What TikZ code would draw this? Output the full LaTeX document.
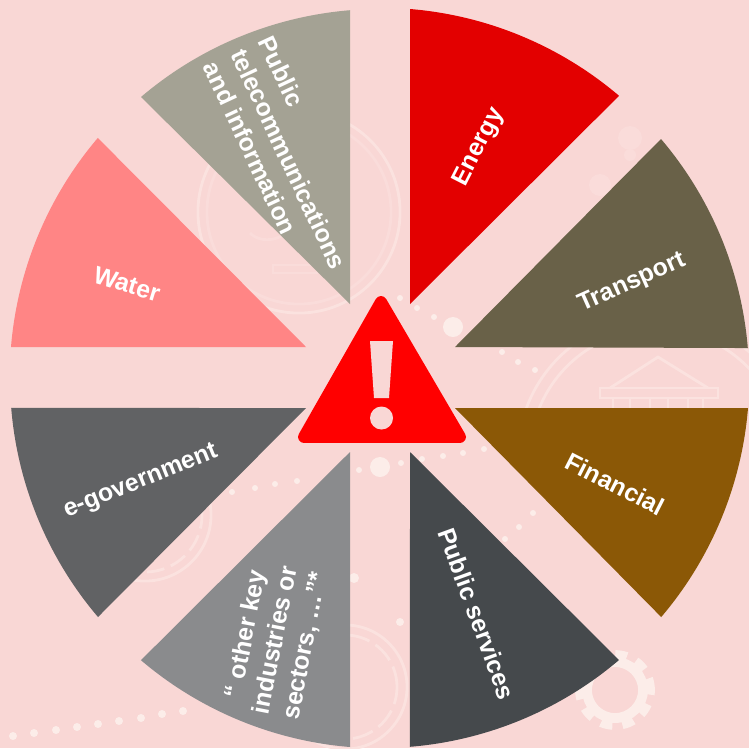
\documentclass[tikz,border=0pt]{standalone}
\usepackage{fontspec}
\setmainfont{Liberation Sans}
\usetikzlibrary{calc}
\definecolor{bgpink}{HTML}{F9D7D5}
\definecolor{wm}{HTML}{FBE2DF}
\definecolor{wmdot}{HTML}{FCEDE9}
\definecolor{wmlow}{HTML}{FADCDA}
\definecolor{cEnergy}{HTML}{E30000}
\definecolor{cTransport}{HTML}{696148}
\definecolor{cFinancial}{HTML}{8B5806}
\definecolor{cServices}{HTML}{45494C}
\definecolor{cOther}{HTML}{8A8B8D}
\definecolor{cGov}{HTML}{616264}
\definecolor{cWater}{HTML}{FF8585}
\definecolor{cTele}{HTML}{A4A294}
\definecolor{cAlert}{HTML}{FF0000}
\tikzset{
  x=0.01cm,y=-0.01cm,
  label text/.style={text=white,font=\bfseries\fontsize{7.05}{8.6}\selectfont,align=center,inner sep=0pt},
  faint/.style={draw=wm,line width=0.8pt,fill=none},
  rim/.style={radius=3.69cm}
}
\begin{document}
\begin{tikzpicture}
\useasboundingbox (0,0) rectangle (749,748);
\fill[bgpink] (0,0) rectangle (749,748);
% faint watermark
\draw[faint] (299,212) circle[radius=1.01cm];
\draw[faint,draw=wmlow] (299,212) circle[radius=0.92cm];
\draw[faint,draw=wmlow] (273,265) rectangle (317,273);
\draw[faint,draw=wmlow] (250,233) .. controls (262,245) and (285,240) .. (292,225);
\begin{scope}
\clip (500,340) rectangle (749,410);
\draw[faint] (657,456) circle[radius=1.39cm];
\draw[faint] (657,456) circle[radius=1.27cm];
\end{scope}
\draw[faint] (610,388) -- (658,357) -- (708,388);
\draw[faint] (600,388) rectangle (718,398);
\foreach \cx in {613,630,650,668,688,703} \draw[faint] (\cx,398) -- (\cx,408);
\draw[faint] (345,687) circle[radius=0.62cm];
\draw[faint,dash pattern=on 6pt off 2pt] (345,687) circle[radius=0.52cm];
\draw[faint] (145,515) circle[radius=0.66cm];
\draw[faint,dash pattern=on 5pt off 2pt] (145,515) circle[radius=0.57cm];
\draw[wmdot,line width=2.2pt,dash pattern=on 3.4pt off 2.9pt] (615,690) circle[radius=0.36cm];
\draw[wmdot,line width=2.8pt] (615,690) circle[radius=0.28cm];
\foreach \px/\py/\r in {400/298/3,417/308/3,434/317/3,453/327/10,502/352/3,518/362/3,535/370/3,
  380/467/10,359/470/3,401/463/3,422/459/3,443/456/3,463/453/3,484/449/3,
  232/492/3,255/488/3,275/484/3,297/481/3,
  13/736/4,34/733/4,56/730/4,77/727/4,98/724/4,119/721/4,141/718/4,162/714/4,183/711/4,
  533/513/3,519/527/3,505/539/3,400/622/4,354/578/5}
  \fill[wmdot] (\px,\py) circle[radius=\r*0.01cm];
\foreach \px/\py/\r in {630/138/12,600/185/11,630/155/6}
  \fill[wmlow] (\px,\py) circle[radius=\r*0.01cm];
% sectors
\fill[cEnergy] (410,304) -- (410,9) arc[start angle=85.3,end angle=49.6,rim] -- cycle;
\fill[cTransport] (455,347) -- (661,139) arc[start angle=40.4,end angle=4.7,rim] -- cycle;
\fill[cFinancial] (455,408) -- (748,408) arc[start angle=-4.7,end angle=-40.4,rim] -- cycle;
\fill[cServices] (410,452) -- (619,660) arc[start angle=-49.6,end angle=-85.3,rim] -- cycle;
\fill[cOther] (350,452) -- (350,747) arc[start angle=-94.7,end angle=-130.4,rim] -- cycle;
\fill[cGov] (306,408) -- (98,617) arc[start angle=-139.6,end angle=-175.3,rim] -- cycle;
\fill[cWater] (306,347) -- (11,347) arc[start angle=175.3,end angle=139.6,rim] -- cycle;
\fill[cTele] (350,304) -- (141,97) arc[start angle=130.4,end angle=94.7,rim] -- cycle;
% labels
\node[label text,rotate=63] (energy) at (479,147) {Energy};
\node[label text,rotate=24] (transport) at (632,283) {Transport};
\node[label text,rotate=-27] (financial) at (615,484) {Financial};
\node[label text,rotate=-70] (services) at (477,614) {Public services};
\node[label text,rotate=79] (other) at (276,640) {“ other key\\industries or\\sectors, …”*};
\node[label text,rotate=22] (gov) at (141,482) {e-government};
\node[label text,rotate=-17] (water) at (127,284) {Water};
\node[label text,rotate=-65,align=left] (tele) at (289,159) {Public\\telecommunications\\and information};
% warning sign
\fill[cAlert,draw=cAlert,line width=3.4pt,line join=round] (381,302) -- (304,437) -- (460,437) -- cycle;
\fill[bgpink] (370,341) -- (393,341) -- (389,398) -- (374,398) -- cycle;
\fill[bgpink] (381.5,418) circle[radius=0.115cm];
\end{tikzpicture}
\end{document}
